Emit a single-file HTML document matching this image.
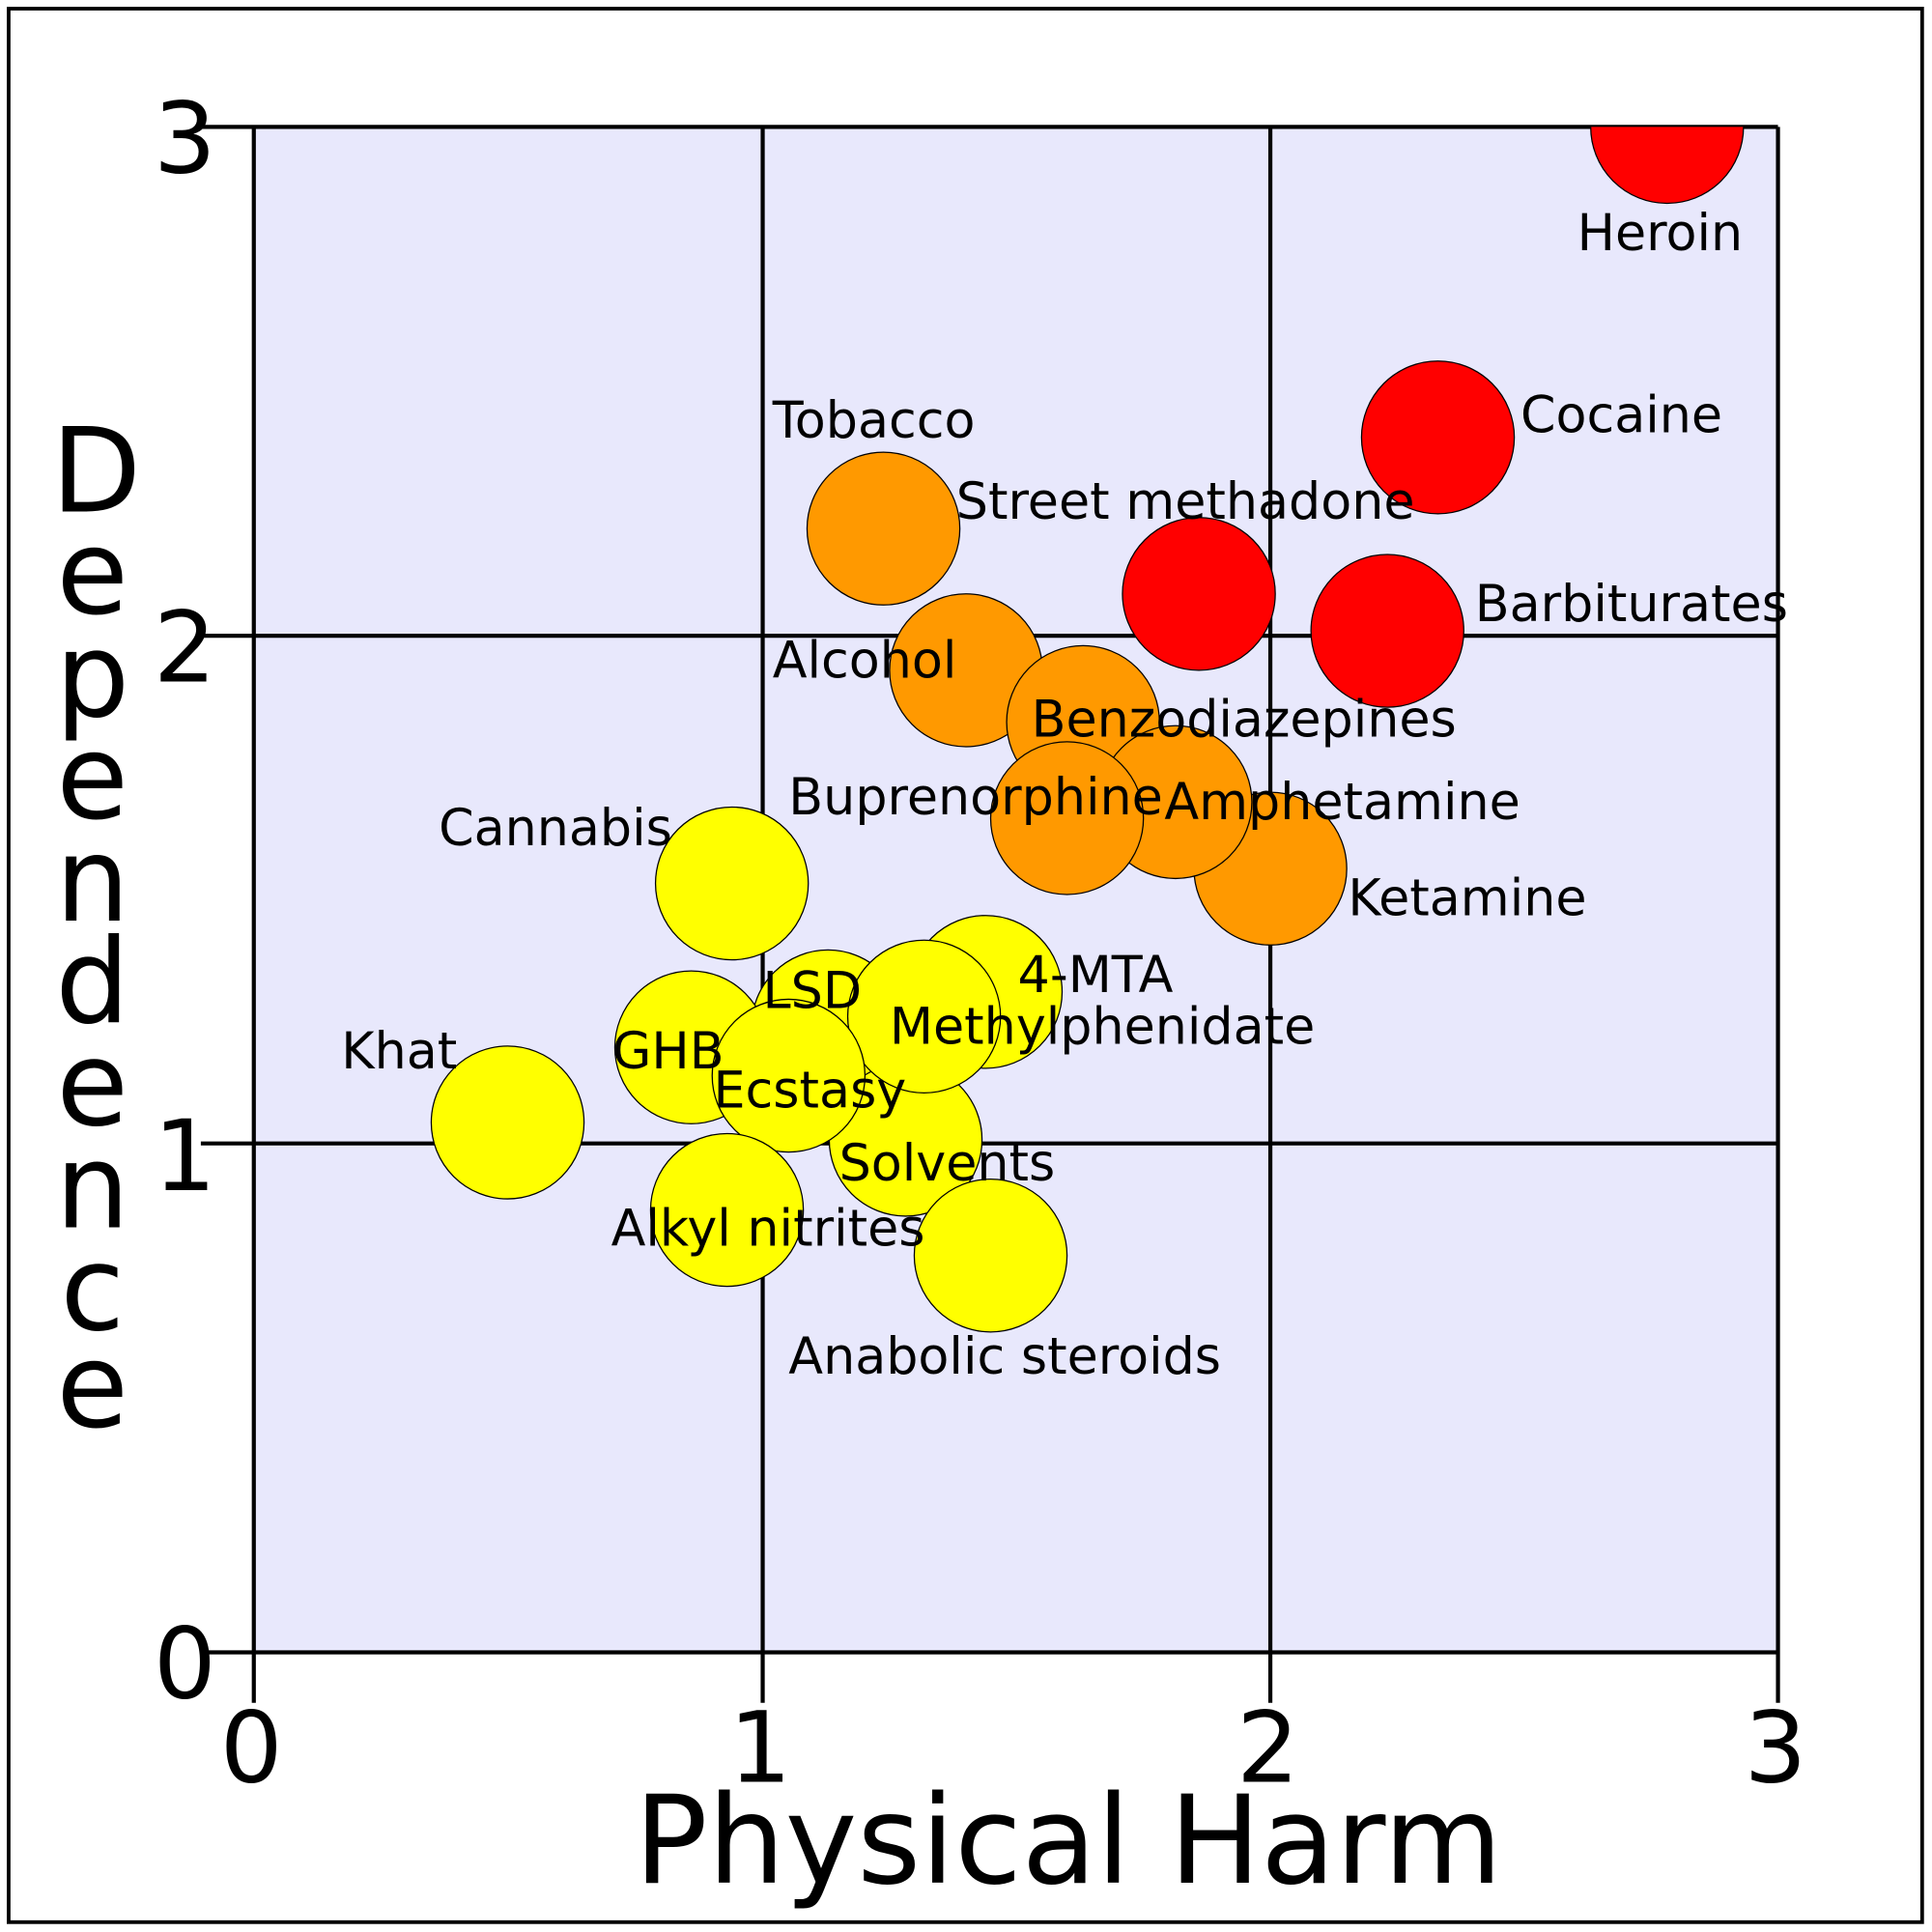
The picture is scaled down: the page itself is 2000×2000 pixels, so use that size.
<!DOCTYPE html>
<html><head><style>html,body{margin:0;padding:0;background:#fff}svg{display:block}</style></head><body>
<svg width="2000" height="2000" viewBox="0 0 1568 1568" xmlns="http://www.w3.org/2000/svg" font-family="DejaVu Sans, Liberation Sans, sans-serif">
<defs><clipPath id="pc"><rect x="206" y="103" width="1237" height="1238"/></clipPath></defs>
<rect x="7" y="7" width="1553" height="1553" fill="#fff" stroke="#000" stroke-width="3"/>
<rect x="206" y="103" width="1237" height="1238" fill="#e8e8fc"/>
<g stroke="#000" stroke-width="3.3" fill="none">
<line x1="163" y1="103" x2="1443" y2="103"/><line x1="163" y1="516" x2="1443" y2="516"/><line x1="163" y1="928" x2="1443" y2="928"/><line x1="163" y1="1341" x2="1443" y2="1341"/>
<line x1="206" y1="103" x2="206" y2="1382"/><line x1="619" y1="103" x2="619" y2="1382"/><line x1="1031" y1="103" x2="1031" y2="1382"/><line x1="1443" y1="103" x2="1443" y2="1382"/>
</g>
<g stroke="#000" stroke-width="1" clip-path="url(#pc)">
<g fill="#f00"><circle cx="1353" cy="103" r="62"/><circle cx="1167" cy="355" r="62"/><circle cx="973" cy="482" r="62"/><circle cx="1126" cy="512" r="62"/></g>
<g fill="#ff9900"><circle cx="717" cy="429" r="62"/><circle cx="784" cy="544" r="62"/><circle cx="879" cy="586" r="62"/><circle cx="1031" cy="705" r="62"/><circle cx="954" cy="651" r="62"/><circle cx="866" cy="664" r="62"/></g>
<g fill="#ff0"><circle cx="594" cy="717" r="62"/><circle cx="800" cy="805" r="62"/><circle cx="672" cy="833" r="62"/><circle cx="735" cy="925" r="62"/><circle cx="561" cy="850" r="62"/><circle cx="750" cy="825" r="62"/><circle cx="640" cy="873" r="62"/><circle cx="412" cy="911" r="62"/><circle cx="590" cy="982" r="62"/><circle cx="804" cy="1019" r="62"/></g>
</g>
<g font-size="41" fill="#000">
<text x="1280" y="203">Heroin</text><text x="1234" y="351">Cocaine</text><text x="776" y="421">Street methadone</text><text x="1197" y="504">Barbiturates</text>
<text x="627" y="355">Tobacco</text><text x="627" y="550">Alcohol</text><text x="837" y="598">Benzodiazepines</text><text x="945" y="665">Amphetamine</text>
<text x="1094" y="743">Ketamine</text><text x="640" y="661">Buprenorphine</text><text x="356" y="686">Cannabis</text><text x="826" y="805">4-MTA</text>
<text x="619" y="818">LSD</text><text x="722" y="847">Methylphenidate</text><text x="497" y="867">GHB</text><text x="579" y="899">Ecstasy</text>
<text x="681" y="958">Solvents</text><text x="277" y="867">Khat</text><text x="496" y="1011">Alkyl nitrites</text><text x="640" y="1115">Anabolic steroids</text>
</g>
<g font-size="80" fill="#000" text-anchor="middle">
<text x="150" y="140">3</text><text x="150" y="553">2</text><text x="150" y="966">1</text><text x="150" y="1378">0</text>
<text x="204" y="1446">0</text><text x="617" y="1446">1</text><text x="1029" y="1446">2</text><text x="1441" y="1446">3</text>
</g>
<text x="867" y="1528" font-size="99" text-anchor="middle">Physical Harm</text>
<g font-size="95" text-anchor="middle">
<text x="78" y="415">D</text><text x="75" y="498">e</text><text x="75" y="581">p</text><text x="75" y="664">e</text><text x="75" y="747">n</text><text x="75" y="830">d</text><text x="75" y="913">e</text><text x="75" y="996">n</text><text x="75" y="1079">c</text><text x="75" y="1158">e</text>
</g>
</svg>
</body></html>
